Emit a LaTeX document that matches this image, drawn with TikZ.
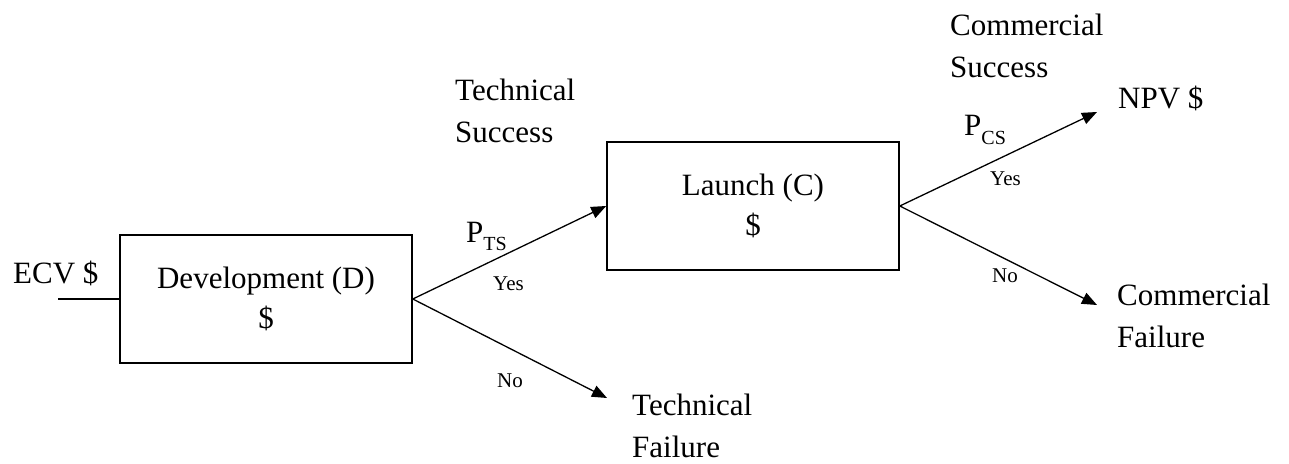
\documentclass[tikz,border=0pt]{standalone}
\usepackage{fontspec}
\setmainfont{Liberation Serif}
\usetikzlibrary{arrows.meta}
\begin{document}
\begin{tikzpicture}[x=1pt,y=-1pt,
  box/.style={draw, line width=1.6pt, minimum width=292pt, minimum height=128pt,
    align=center, inner sep=0pt, font=\fontsize{31}{40}\selectfont},
  lbl/.style={font=\fontsize{31}{42}\selectfont, align=left, inner sep=0pt},
  small/.style={font=\fontsize{21}{24}\selectfont, inner sep=0pt},
  arr/.style={line width=1.3pt, -{Triangle[length=15pt,width=12pt]}},
  ln/.style={line width=1.6pt}]
\useasboundingbox (0,0) rectangle (1289,463);
% boxes
\node[box] (dev) at (266,299) {Development (D)\\\$};
\node[box] (launch) at (753,206) {Launch (C)\\\$};
% text labels (base = baseline of last line)
\node[lbl, anchor=base west] (ecv) at (13,283) {ECV \$};
\node[lbl, anchor=base west] (ts) at (455,142) {Technical\\Success};
\node[lbl, anchor=base west] (tf) at (632,457) {Technical\\Failure};
\node[lbl, anchor=base west] (cs) at (950,77) {Commercial\\Success};
\node[lbl, anchor=base west] (npv) at (1118,108) {NPV \$};
\node[lbl, anchor=base west] (cf) at (1117,347) {Commercial\\Failure};
% probabilities
\node[lbl, anchor=base west] (pts) at (466,242) {P\raisebox{-8pt}{\fontsize{20}{20}\selectfont TS}};
\node[lbl, anchor=base west] (pcs) at (964,135) {P\raisebox{-9pt}{\fontsize{20}{20}\selectfont CS}};
\node[small, anchor=base west] (yes1) at (493,290) {Yes};
\node[small, anchor=base west] (no1) at (497,387) {No};
\node[small, anchor=base west] (yes2) at (990,185) {Yes};
\node[small, anchor=base west] (no2) at (992,282) {No};
% coordinates for free ends
\coordinate (ecvend) at (58,299);
\coordinate (tfend) at (607,398);
\coordinate (npvend) at (1097,112);
\coordinate (cfend) at (1097,305);
% connectors
\draw[ln] (ecvend) -- (dev.west);
\draw[arr] (dev.east) -- (launch.west);
\draw[arr] (dev.east) -- (tfend);
\draw[arr] (launch.east) -- (npvend);
\draw[arr] (launch.east) -- (cfend);
\end{tikzpicture}
\end{document}
